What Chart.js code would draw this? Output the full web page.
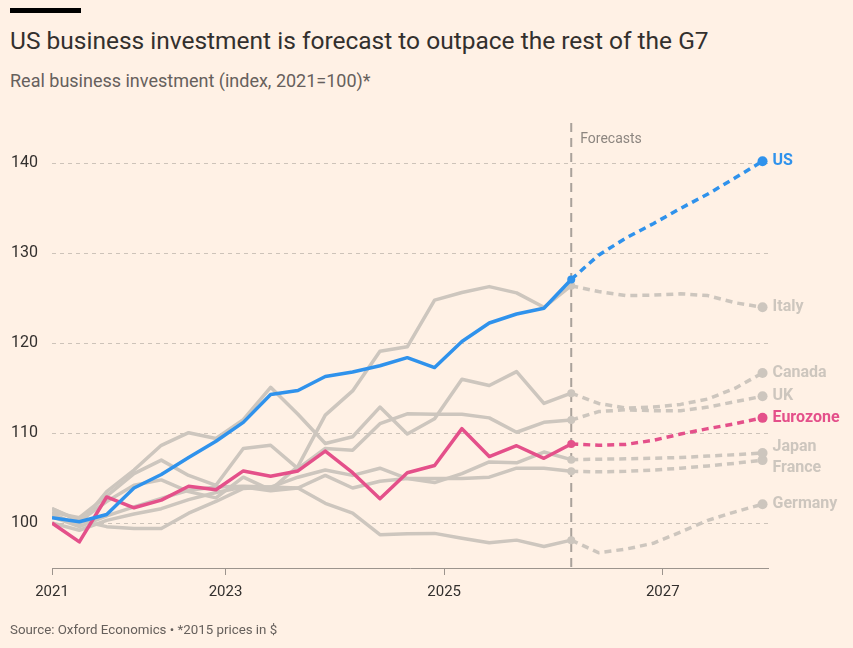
<!DOCTYPE html>
<html>
<head>
<meta charset="utf-8">
<script src="https://cdn.jsdelivr.net/npm/chart.js@4.4.0/dist/chart.umd.min.js"></script>
<style>
  body { margin: 0; background: #fff1e5; }
  #wrap { position: relative; width: 853px; height: 648px; overflow: hidden; font-family: Roboto, sans-serif; color: #33302e; }
  .bar { position: absolute; left: 10px; top: 8px; width: 71px; height: 5px; background: #000; }
  #title { position: absolute; left: 10px; top: 26px; font-size: 24.5px; white-space: nowrap; }
  #subtitle { position: absolute; left: 10px; top: 70px; font-size: 18px; color: #66605c; white-space: nowrap; }
  #source { position: absolute; left: 10px; top: 622px; font-size: 13.3px; color: #66605c; white-space: nowrap; }
  #chartBox { position: absolute; left: 0; top: 0; width: 853px; height: 648px; }
</style>
</head>
<body>
<div id="wrap">
  <div class="bar"></div>
  <div id="title">US business investment is forecast to outpace the rest of the G7</div>
  <div id="subtitle">Real business investment (index, 2021=100)*</div>
  <div id="chartBox"><canvas id="chart"></canvas></div>
  <div id="source">Source: Oxford Economics • *2015 prices in $</div>
</div>
<script>
// quarterly periods, forecasts start at 2026 Q1
const periods = [
  '2021 Q2', '2021 Q3', '2021 Q4',
  '2022 Q1', '2022 Q2', '2022 Q3', '2022 Q4',
  '2023 Q1', '2023 Q2', '2023 Q3', '2023 Q4',
  '2024 Q1', '2024 Q2', '2024 Q3', '2024 Q4',
  '2025 Q1', '2025 Q2', '2025 Q3', '2025 Q4',
  '2026 Q1', '2026 Q2', '2026 Q3', '2026 Q4',
  '2027 Q1', '2027 Q2', '2027 Q3', '2027 Q4'
];
const forecastFrom = periods.indexOf('2026 Q1');

const us       = [100.6, 100.15, 100.95, 103.9, 105.4, 107.3, 109.1, 111.2, 114.3, 114.75, 116.3, 116.8, 117.5, 118.4, 117.3, 120.2, 122.25, 123.25, 123.9, 127.1, 129.8, 131.7, 133.3, 135.0, 136.6, 138.4, 140.25];
const eurozone = [100.0, 97.9, 102.9, 101.7, 102.55, 104.1, 103.7, 105.8, 105.2, 105.8, 108.0, 105.6, 102.7, 105.6, 106.4, 110.5, 107.4, 108.6, 107.2, 108.8, 108.65, 108.75, 109.2, 109.9, 110.5, 111.05, 111.7];
const italy    = [101.6, 100.2, 102.4, 104.2, 104.8, 103.5, 102.8, 105.1, 103.7, 106.3, 112.0, 114.7, 119.1, 119.6, 124.8, 125.65, 126.3, 125.6, 124.0, 126.4, 125.75, 125.3, 125.35, 125.5, 125.3, 124.5, 124.0];
const canada   = [101.0, 99.8, 103.5, 105.9, 108.65, 110.05, 109.4, 111.5, 115.1, 112.1, 108.85, 109.6, 112.9, 109.9, 111.6, 116.0, 115.3, 116.85, 113.3, 114.45, 113.3, 112.8, 112.9, 113.2, 113.8, 115.0, 116.7];
const uk       = [101.2, 100.6, 103.0, 105.5, 107.0, 105.3, 104.2, 108.3, 108.65, 106.05, 108.3, 108.1, 111.05, 112.15, 112.1, 112.1, 111.7, 110.1, 111.2, 111.45, 112.4, 112.6, 112.5, 112.5, 112.9, 113.5, 114.1];
const japan    = [100.7, 99.6, 100.8, 101.8, 102.75, 103.65, 104.0, 104.1, 104.0, 105.1, 105.9, 105.3, 106.1, 104.95, 104.5, 105.5, 106.8, 106.7, 107.9, 107.05, 107.1, 107.15, 107.2, 107.3, 107.45, 107.6, 107.8];
const france   = [100.0, 99.2, 100.3, 101.0, 101.6, 102.6, 103.4, 104.0, 103.6, 103.9, 105.3, 103.9, 104.65, 104.95, 104.95, 104.95, 105.1, 106.1, 106.1, 105.75, 105.7, 105.75, 105.9, 106.1, 106.35, 106.65, 107.0];
const germany  = [101.6, 100.3, 99.6, 99.4, 99.4, 101.1, 102.4, 103.85, 104.0, 103.9, 102.2, 101.1, 98.7, 98.8, 98.85, 98.3, 97.8, 98.1, 97.4, 98.1, 96.7, 97.1, 97.75, 99.0, 100.3, 101.25, 102.1];

// x ticks sit at quarter-index positions
const xTickPos = [0, 6.35, 14.35, 22.35];
const xTickLabels = ['2021', '2023', '2025', '2027'];
const yTicks = [100, 110, 120, 130, 140];

const BLUE = '#2f92ec';
const PINK = '#e4508a';
const GREY = '#cdc6be';

// label nudges so the end labels don't collide
const labelNudge = { Japan: -6, France: 8 };

function makeSet(name, values, color) {
  const last = values.length - 1;
  return {
    label: name,
    data: values.map((v, i) => ({ x: i, y: v })),
    borderColor: color,
    backgroundColor: color,
    borderWidth: 3.5,
    borderJoinStyle: 'round',
    pointRadius: ctx => ctx.dataIndex === last ? 5 : (ctx.dataIndex === forecastFrom ? 4 : 0),
    pointHoverRadius: 0,
    pointBorderWidth: 0,
    tension: 0,
    segment: {
      borderDash: ctx => ctx.p0DataIndex >= forecastFrom ? [7, 5] : undefined
    }
  };
}

// first dataset is drawn on top
const datasets = [
  makeSet('US', us, BLUE),
  makeSet('Eurozone', eurozone, PINK),
  makeSet('Italy', italy, GREY),
  makeSet('Canada', canada, GREY),
  makeSet('UK', uk, GREY),
  makeSet('Japan', japan, GREY),
  makeSet('France', france, GREY),
  makeSet('Germany', germany, GREY)
];

const overlay = {
  id: 'overlay',
  beforeDatasetsDraw(chart) {
    const { ctx, chartArea, scales } = chart;
    const x = scales.x.getPixelForValue(forecastFrom);
    ctx.save();
    ctx.strokeStyle = '#aaa29b';
    ctx.lineWidth = 2;
    ctx.setLineDash([9, 6]);
    ctx.beginPath();
    ctx.moveTo(x, chartArea.top);
    ctx.lineTo(x, chartArea.bottom);
    ctx.stroke();
    ctx.setLineDash([]);
    ctx.fillStyle = '#8d8680';
    ctx.font = '14px Roboto';
    ctx.textBaseline = 'middle';
    ctx.fillText('Forecasts', x + 9, chartArea.top + 16);
    ctx.restore();
  },
  afterDatasetsDraw(chart) {
    const { ctx } = chart;
    ctx.save();
    ctx.textBaseline = 'middle';
    ctx.font = 'bold 16px Roboto';
    chart.data.datasets.forEach((ds, i) => {
      const meta = chart.getDatasetMeta(i);
      const pt = meta.data[meta.data.length - 1];
      ctx.fillStyle = ds.borderColor;
      ctx.fillText(ds.label, pt.x + 10, pt.y + (labelNudge[ds.label] || 0));
    });
    ctx.restore();
  }
};

new Chart(document.getElementById('chart'), {
  type: 'line',
  data: { datasets },
  options: {
    responsive: true,
    maintainAspectRatio: false,
    animation: false,
    layout: { padding: { top: 123, right: 85, bottom: 35, left: 0 } },
    plugins: { legend: { display: false }, tooltip: { enabled: false } },
    scales: {
      x: {
        type: 'linear',
        min: 0,
        max: 26.2,
        afterBuildTicks: ax => { ax.ticks = xTickPos.map(v => ({ value: v })); },
        afterFit: ax => { ax.height = 45; },
        ticks: {
          callback: (v, i) => xTickLabels[i],
          autoSkip: false,
          maxRotation: 0,
          padding: 8,
          color: '#33302e',
          font: { family: 'Roboto', size: 15 }
        },
        grid: { drawOnChartArea: false, drawTicks: true, tickLength: 7, color: '#9c948d' },
        border: { display: true, color: '#9c948d', width: 1 }
      },
      y: {
        min: 95,
        max: 144.5,
        afterBuildTicks: ax => { ax.ticks = yTicks.map(v => ({ value: v })); },
        afterFit: ax => { ax.width = 52; },
        ticks: {
          padding: 14,
          color: '#33302e',
          font: { family: 'Roboto', size: 16 }
        },
        grid: { drawTicks: false, color: '#cdc3b9', lineWidth: 1 },
        border: { display: false, dash: [4, 4] }
      }
    }
  },
  plugins: [overlay]
});
</script>
</body>
</html>
